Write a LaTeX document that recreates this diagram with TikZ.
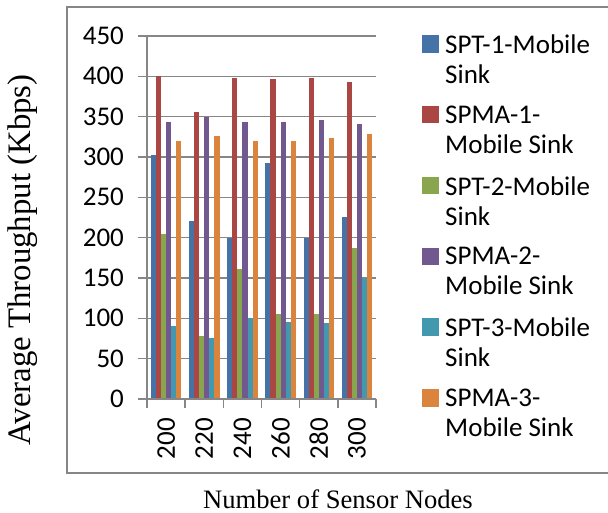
\documentclass[tikz,border=0pt]{standalone}
\usepackage{fontspec}
\setmainfont{Liberation Serif}
\newfontfamily\chartfont{Carlito}
\newfontfamily\titlefont{Liberation Serif}
\usetikzlibrary{positioning}

\definecolor{sptone}{HTML}{4572A7}
\definecolor{spmaone}{HTML}{AA4643}
\definecolor{spttwo}{HTML}{89A54E}
\definecolor{spmatwo}{HTML}{71588F}
\definecolor{sptthree}{HTML}{4198AF}
\definecolor{spmathree}{HTML}{DB843D}
\definecolor{axisgray}{HTML}{868686}

\begin{document}
\begin{tikzpicture}[x=1pt, y=1pt,
  gridline/.style={axisgray, line width=1.4pt},
  ticklabel/.style={font=\chartfont\fontsize{27}{27}\selectfont, inner sep=0pt},
  axistitle/.style={inner sep=0pt, anchor=base},
  legendtext/.style={font=\chartfont\fontsize{27}{30}\selectfont, align=left, anchor=north west, inner sep=0pt},
  legendkey/.style={minimum size=17.5pt, inner sep=0pt, anchor=north west}]
  \useasboundingbox (0,0) rectangle (608,513);
  % Chart frame (right side runs off the page)
  \draw[axisgray, line width=1.2pt] (615,506) -- (67,506) -- (67,40) -- (615,40);
  % Plot area: one x unit per category, y in Kbps
  \begin{scope}[shift={(147,114)}, x=38.17pt, y=0.8067pt]
    % Gridlines and value labels
    \foreach \v in {0,50,...,450} {
      \draw[gridline] (-0.24,\v) -- (6,\v);
      \node[ticklabel, anchor=east] (ytick\v) at (-0.6,\v) {\v};
    }
    % Bars, six series side by side
    \foreach \col/\vals [count=\k from 0] in {
        sptone/{302,221,200,292,200,225},
        spmaone/{400,356,398,397,398,393},
        spttwo/{205,78,161,105,105,187},
        spmatwo/{343,350,343,343,346,341},
        sptthree/{90,76,100,96,94,150},
        spmathree/{320,326,320,320,324,328}} {
      \foreach \v [count=\c from 0] in \vals
        \fill[\col] ({\c+0.1+\k*0.13333},0) rectangle ++(0.13333,\v);
    }
    % Axes
    \draw[gridline] (0,0) -- (0,450);
    \draw[gridline] (0,0) -- (6,0);
    \foreach \i in {0,...,6}
      \draw[gridline] (\i,0) -- (\i,-10.8);
    % Category labels
    \foreach \n [count=\c from 0] in {200,220,240,260,280,300}
      \node[ticklabel, rotate=90, anchor=east] (xtick\n) at (\c+0.5,-23.5) {\n};
  \end{scope}
  % Axis titles
  \node[axistitle, rotate=90] (ytitle) at (31,253)
    {\titlefont\fontsize{32.8}{33}\selectfont Average Throughput (Kbps)};
  \node[axistitle] (xtitle) at (338,4.7)
    {\titlefont\fontsize{26.6}{27}\selectfont Number of Sensor Nodes};
  % Legend
  \foreach \col/\txt [count=\k from 0] in {
      sptone/SPT-1-Mobile\\Sink,
      spmaone/SPMA-1-\\Mobile Sink,
      spttwo/SPT-2-Mobile\\Sink,
      spmatwo/SPMA-2-\\Mobile Sink,
      sptthree/SPT-3-Mobile\\Sink,
      spmathree/SPMA-3-\\Mobile Sink} {
    \node[legendkey, fill=\col] (key\k) at (421.5,{478-70.8*\k}) {};
    \node[legendtext] (leg\k) at (445,{478.5-70.8*\k}) {\txt};
  }
\end{tikzpicture}
\end{document}
